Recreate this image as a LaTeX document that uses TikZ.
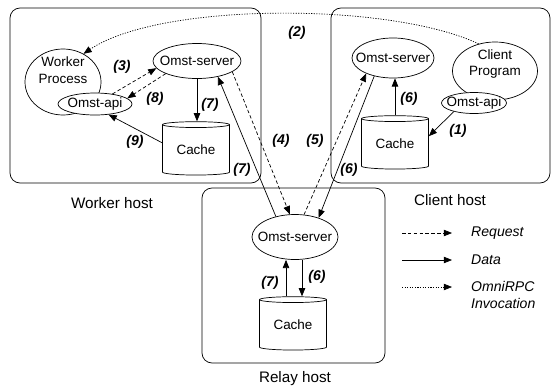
\documentclass[tikz,border=0pt]{standalone}
\usepackage{fontspec}
\setmainfont{Liberation Sans}
\usepackage{tikz}
\usetikzlibrary{arrows.meta,shapes.geometric}

\newcommand{\ovtext}[1]{\makebox[0pt]{#1}}

\begin{document}
\begin{tikzpicture}[
    x=0.03cm, y=-0.03cm,
    font=\fontsize{11.5}{14}\selectfont,
    host/.style={draw, rounded corners=0.3cm, line width=0.6pt, minimum height=5.25cm},
    hostlbl/.style={font=\fontsize{13}{15}\selectfont},
    proc/.style={draw, ellipse, fill=white, inner sep=0pt, line width=0.6pt},
    store/.style={draw, cylinder, shape border rotate=90, aspect=0.15, fill=white,
                  minimum width=2.01cm, minimum height=1.6cm, inner sep=0pt, line width=0.6pt},
    stepno/.style={font=\fontsize{12}{14}\selectfont\bfseries\itshape, inner sep=0pt},
    legtxt/.style={font=\fontsize{12}{14}\selectfont\itshape, align=left, anchor=west, inner sep=0pt},
    data/.style={-{Triangle[length=7pt, width=5.5pt]}, line width=0.6pt},
    req/.style={data, dash pattern=on 3pt off 2pt},
    invoc/.style={data, dash pattern=on 1pt off 1.2pt}
]
\useasboundingbox (0,0) rectangle (551,387);

\node[host, minimum width=7.53cm] (worker) at (135.5,95.5) {};
\node[host, minimum width=6.57cm] (client) at (440.5,95.5) {};
\node[host, minimum width=5.49cm] (relay) at (293.5,275.5) {};

\node[hostlbl] (workerlbl) at (112,203) {Worker host};
\node[hostlbl] (clientlbl) at (450,200) {Client host};
\node[hostlbl] (relaylbl) at (295,379) {Relay host};

% worker host
\node[proc, minimum width=2.28cm, minimum height=1.98cm,
      label={[name=wproclbl, align=center, yshift=10pt]center:Worker\\Process}] (wproc) at (63,82) {};
\node[proc, minimum width=2.22cm, minimum height=0.66cm] (wapi) at (95,104) {\ovtext{Omst-api}};
\node[proc, minimum width=2.64cm, minimum height=1.05cm] (wserv) at (197,61) {\ovtext{Omst-server}};
\node[store] (wcache) at (196,150) {Cache};

% client host
\node[proc, minimum width=2.55cm, minimum height=1.74cm,
      label={[name=cproglbl, align=center, yshift=6pt]center:Client\\Program}] (cprog) at (495,71) {};
\node[proc, minimum width=1.95cm, minimum height=0.63cm] (capi) at (474,103) {\ovtext{Omst-api}};
\node[proc, minimum width=2.46cm, minimum height=1.2cm] (cserv) at (393,58) {\ovtext{Omst-server}};
\node[store] (ccache) at (395,144) {Cache};

% relay host
\node[proc, minimum width=2.58cm, minimum height=1.35cm] (rserv) at (295,237) {\ovtext{Omst-server}};
\node[store] (rcache) at (293,325) {Cache};

\draw[invoc] (cprog.121) .. controls (390,2) and (160,2) .. (wproc.54);
\draw[req] (wapi.30) -- (wserv.190);
\draw[req] (wserv.202) -- (wapi.10);
\draw[data] (wserv.south) -- (wserv.south |- wcache.north);
\draw[data] (wcache.168) -- (wapi.-38);
\draw[data] (rserv.133) -- (wserv.-37);
\draw[req] (wserv.-17) -- (rserv.103);
\draw[req] (rserv.68) -- (cserv.210);
\draw[data] (cserv.224) -- (rserv.39);
\draw[data] (ccache.north) -- (ccache.north |- cserv.south);
\draw[data] (capi.203) -- (ccache.13);
\draw[data] ([xshift=-0.27cm]rserv.south |- rcache.north) -- ([xshift=-0.27cm]rserv.south);
\draw[data] ([xshift=0.21cm]rserv.south) -- ([xshift=0.21cm]rserv.south |- rcache.north);

\node[stepno] (s1) at (458,131) {(1)};
\node[stepno] (s2) at (297,33) {(2)};
\node[stepno] (s3) at (122,67) {(3)};
\node[stepno] (s4) at (281,141) {(4)};
\node[stepno] (s5) at (315,141) {(5)};
\node[stepno] (s6a) at (349,170) {(6)};
\node[stepno] (s6b) at (409,99) {(6)};
\node[stepno] (s6c) at (317,277) {(6)};
\node[stepno] (s7a) at (210,105) {(7)};
\node[stepno] (s7b) at (242,170) {(7)};
\node[stepno] (s7c) at (270,283) {(7)};
\node[stepno] (s8) at (155,99) {(8)};
\node[stepno] (s9) at (135,142) {(9)};

% legend
\coordinate (lreqa) at (402,233);
\coordinate (lreqb) at (452,233);
\coordinate (ldataa) at (402,260);
\coordinate (ldatab) at (452,260);
\coordinate (lomnia) at (402,287);
\coordinate (lomnib) at (452,287);
\node[legtxt] (lreq) at (471,233) {Request};
\node[legtxt] (ldata) at (471,260) {Data};
\node[legtxt] (lomni) at (471,295) {OmniRPC\\Invocation};
\draw[req] (lreqa) -- (lreqb);
\draw[data] (ldataa) -- (ldatab);
\draw[invoc] (lomnia) -- (lomnib);

\end{tikzpicture}
\end{document}
